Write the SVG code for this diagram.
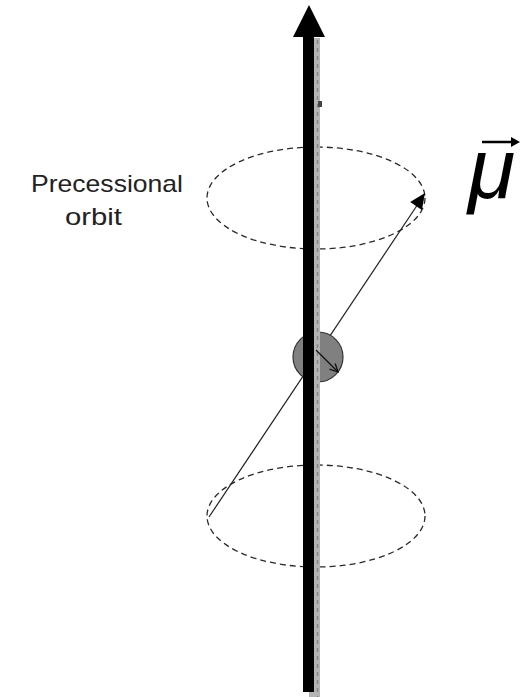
<svg xmlns="http://www.w3.org/2000/svg" width="522" height="697" viewBox="0 0 522 697">
<style>
.orbit{fill:none;stroke:#2a2a2a;stroke-width:1.3;stroke-dasharray:6 4}
.lbl{font-family:"Liberation Sans",Arial,sans-serif;font-size:24px;fill:#222}
</style>
<defs>
<marker id="open" markerWidth="10" markerHeight="10" refX="9" refY="5" orient="auto" markerUnits="userSpaceOnUse">
<path d="M1,1 L9,5 L1,9" fill="none" stroke="#111" stroke-width="1.3"/>
</marker>
</defs>
<rect width="522" height="697" fill="#fff"/>
<g id="orbit-top"><ellipse class="orbit" cx="316" cy="198" rx="109" ry="51"/></g>
<g id="orbit-bottom"><ellipse class="orbit" cx="316" cy="516" rx="109" ry="51"/></g>
<g id="connectors">
<line x1="209" y1="517" x2="418" y2="204" stroke="#222" stroke-width="1.2"/>
<polygon points="425,193 410.2,202.1 421.9,209.9" fill="#000"/>
</g>
<g id="nucleus"><circle cx="318" cy="357" r="25" fill="#808080" stroke="#333" stroke-width="1.2"/></g>
<g id="axis">
<rect x="309" y="38" width="11" height="659" fill="#b4b4b4"/>
<line x1="317.5" y1="40" x2="317.5" y2="697" stroke="#888" stroke-width="1.5" stroke-dasharray="4 4"/>
<rect x="303" y="36" width="11" height="656" fill="#000"/>
<polygon points="309,5 293,37 325,37" fill="#000"/>
<rect x="318" y="101" width="4" height="6" fill="#444"/>
</g>
<g id="spin">
<line x1="316" y1="350" x2="338" y2="372" stroke="#111" stroke-width="1.2" marker-end="url(#open)"/>
</g>
<g id="label">
<text class="lbl" x="31" y="192" textLength="152" lengthAdjust="spacingAndGlyphs">Precessional</text>
<text class="lbl" x="65" y="225" textLength="57" lengthAdjust="spacingAndGlyphs">orbit</text>
</g>
<g id="mu">
<text x="468" y="198" font-family="'Liberation Sans',Arial,sans-serif" font-style="italic" font-size="86" fill="#000">μ</text>
<line x1="482" y1="142" x2="516" y2="142" stroke="#000" stroke-width="2.5"/>
<polygon points="520,142 511,137 511,147" fill="#000"/>
</g>
</svg>
